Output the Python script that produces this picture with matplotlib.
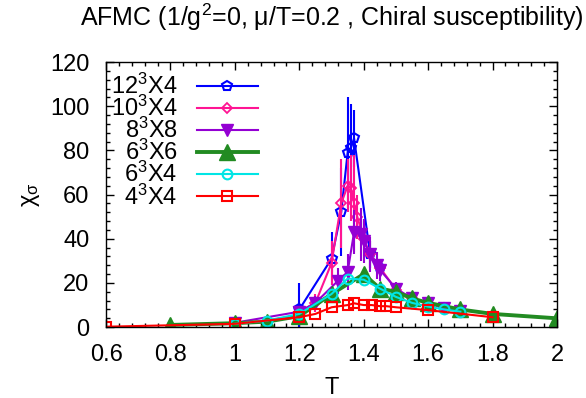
import matplotlib
matplotlib.use("Agg")
import matplotlib.pyplot as plt
from matplotlib.ticker import MultipleLocator

plt.rcParams["font.family"] = ["Liberation Sans", "DejaVu Sans"]
plt.rcParams["mathtext.fontset"] = "custom"
plt.rcParams["mathtext.rm"] = "Liberation Sans"
plt.rcParams["mathtext.it"] = "Liberation Sans"

# data
t_12x4 = [1.2, 1.3, 1.33, 1.35, 1.36, 1.37, 1.42, 1.45]
v_12x4 = [8, 31, 52, 79, 81, 85.5, 33, 27]
e_12x4 = [12, 12, 20, 25, 20, 13, 6, 4]

t_10x4 = [1.2, 1.25, 1.3, 1.33, 1.35, 1.36, 1.37, 1.38, 1.4, 1.42, 1.45, 1.5, 1.55, 1.6, 1.65, 1.7]
v_10x4 = [7, 11, 29, 56, 64, 63, 56, 50, 40, 33, 27, 17, 13, 11, 8.6, 7.5]
e_10x4 = [2, 4, 10, 20, 12, 15, 22, 10, 8, 6, 4, 3, 2, 1.5, 1, 1]

t_8x8 = [1.0, 1.2, 1.25, 1.32, 1.35, 1.37, 1.39, 1.4, 1.42, 1.44, 1.45, 1.5, 1.55, 1.6, 1.65, 1.7]
v_8x8 = [2, 7, 11, 21, 25, 43, 42, 39, 33, 28, 26, 17.5, 13, 11, 8.6, 7.5]
e_8x8 = [0.5, 2, 3, 6, 8, 10, 12, 10, 8, 6, 5, 3, 2, 1.5, 1, 1]

t_6x6 = [0.8, 1.0, 1.1, 1.2, 1.3, 1.4, 1.45, 1.5, 1.55, 1.6, 1.7, 1.8, 2.0]
v_6x6 = [1, 1.8, 2.5, 5, 15, 24, 17.5, 16, 13, 11, 8, 6, 4]

t_6x4 = [1.0, 1.1, 1.2, 1.3, 1.35, 1.4, 1.45, 1.5, 1.55, 1.6, 1.65, 1.7]
v_6x4 = [1.5, 3, 6, 15, 22, 21.5, 17.5, 13.7, 11, 9.3, 8, 7]

t_4x4 = [0.6, 1.0, 1.2, 1.25, 1.3, 1.35, 1.37, 1.4, 1.425, 1.45, 1.47, 1.5, 1.6, 1.8]
v_4x4 = [0.2, 1.5, 4.5, 6, 9, 10, 10.8, 10, 10, 9.5, 9.5, 9, 7.7, 4.5]

labels = ["12$^3$X4", "10$^3$X4", "8$^3$X8", "6$^3$X6", "6$^3$X4", "4$^3$X4"]

fig = plt.figure(figsize=(5.86, 3.98), dpi=100)
ax = fig.add_axes([0.181, 0.178, 0.7695, 0.666])

# error bars first, then the lines with markers (these carry the legend)
ax.errorbar(t_12x4, v_12x4, yerr=e_12x4, fmt="none", ecolor="#0000ff", elinewidth=1.5, capsize=0)
ax.plot(t_12x4, v_12x4, color="#0000ff", lw=1.5, marker="p", ms=7.5, mfc="none", mew=1.5,
        label=labels[0])
ax.errorbar(t_10x4, v_10x4, yerr=e_10x4, fmt="none", ecolor="#ff1493", elinewidth=1.5, capsize=0)
ax.plot(t_10x4, v_10x4, color="#ff1493", lw=1.5, marker="D", ms=5.5, mfc="none", mew=1.3,
        label=labels[1])
ax.errorbar(t_8x8, v_8x8, yerr=e_8x8, fmt="none", ecolor="#9400d3", elinewidth=1.5, capsize=0)
ax.plot(t_8x8, v_8x8, color="#9400d3", lw=1.5, marker="v", ms=8, label=labels[2])
ax.plot(t_6x6, v_6x6, color="#228b22", lw=2.8, marker="^", ms=11, label=labels[3])
ax.plot(t_6x4, v_6x4, color="#00e5e5", lw=1.5, marker="o", ms=7, mfc="none",
        mew=1.5, label=labels[4])
ax.plot(t_4x4, v_4x4, color="#ff0000", lw=1.5, marker="s", ms=7, mfc="none",
        mew=1.5, label=labels[5])

ax.set_xlim(0.6, 2.0)
ax.set_ylim(0, 120)
ax.xaxis.set_major_locator(MultipleLocator(0.2))
ax.xaxis.set_minor_locator(MultipleLocator(0.04))
ax.yaxis.set_major_locator(MultipleLocator(20))
ax.yaxis.set_minor_locator(MultipleLocator(4))
ax.xaxis.set_major_formatter(plt.FuncFormatter(lambda v, p: f"{v:g}"))
ax.tick_params(which="both", direction="in", top=True, right=True, labelsize=17)
ax.tick_params(which="major", length=6, width=1)
ax.tick_params(which="minor", length=3, width=1)
ax.tick_params(axis="x", pad=12)
ax.tick_params(axis="y", pad=12)
for s in ax.spines.values():
    s.set_linewidth(1)

ax.set_xlabel("T", fontsize=17, labelpad=8)
ax.set_ylabel(r"$\chi_\sigma$", fontsize=17, labelpad=6)
ax.set_title("AFMC (1/g$^2$=0, μ/T=0.2 , Chiral susceptibility)", fontsize=18, pad=26)

ax.legend(loc="upper left", bbox_to_anchor=(-0.02, 1.01), frameon=False, markerfirst=False,
          fontsize=17, handlelength=2.6, labelspacing=-0.13, handletextpad=0.8,
          borderaxespad=0.2)

fig.savefig("out.png", dpi=100)
